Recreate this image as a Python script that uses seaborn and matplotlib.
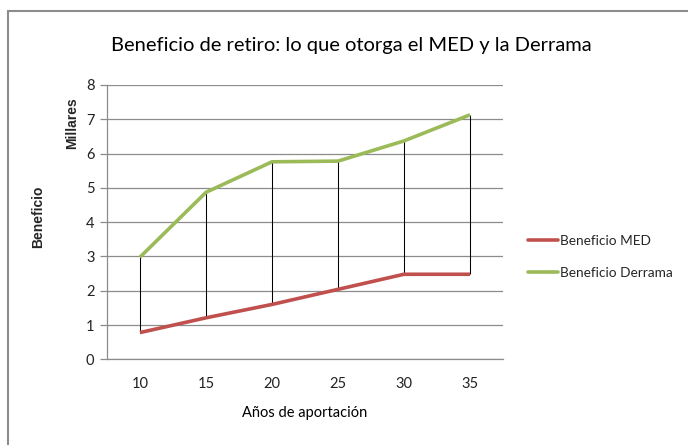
import matplotlib
matplotlib.use("Agg")
import matplotlib.pyplot as plt
import seaborn as sns
import pandas as pd
from matplotlib.lines import Line2D

anios = ["10", "15", "20", "25", "30", "35"]
beneficio_med = [0.78, 1.21, 1.60, 2.04, 2.48, 2.48]
beneficio_derrama = [2.98, 4.87, 5.76, 5.78, 6.37, 7.13]
y_ticks = [0, 1, 2, 3, 4, 5, 6, 7, 8]

sns.set_style("white")
plt.rcParams['font.family'] = ['Lato', 'DejaVu Sans']

pos = list(range(len(anios)))
df = pd.DataFrame({
    "pos": pos * 2,
    "valor": beneficio_med + beneficio_derrama,
    "serie": ["Beneficio MED"] * len(anios) + ["Beneficio Derrama"] * len(anios),
})

fig = plt.figure(figsize=(6.88, 4.45), dpi=100)
ax = fig.add_axes([107/688, 1 - 359.3/445, (503-107)/688, (359.3-85)/445])

colors = {"Beneficio MED": "#C0504D", "Beneficio Derrama": "#9BBB59"}

# high-low lines
ax.vlines(pos, beneficio_med, beneficio_derrama, colors="black", linewidth=0.75, zorder=2)

sns.lineplot(data=df, x="pos", y="valor", hue="serie", palette=colors, linewidth=2.6,
             ax=ax, legend=False, zorder=3, solid_capstyle="butt")

ax.set_xlim(-0.5, len(anios) - 0.5)
ax.set_ylim(0, 8)
ax.set_yticks(y_ticks)
ax.set_xticks(pos)
ax.set_xticklabels(anios)
ax.yaxis.grid(True, color="#8C8C8C", linewidth=0.9)
ax.xaxis.grid(False)
for s in ["top", "right"]:
    ax.spines[s].set_visible(False)
for s in ["left", "bottom"]:
    ax.spines[s].set_color("#8C8C8C")
    ax.spines[s].set_linewidth(0.9)
ax.tick_params(axis="y", length=5, color="#8C8C8C", width=0.9, left=True, labelsize=10.5, pad=4, labelcolor="#222222")
ax.tick_params(axis="x", length=0, labelsize=10.5, pad=13, labelcolor="#222222")
ax.set_xlabel("")
ax.set_ylabel("")

fig.text(351/688, 1 - 45/445, "Beneficio de retiro: lo que otorga el MED y la Derrama",
         ha="center", va="center", fontsize=14.5, color="black")
fig.text(305/688, 1 - 413/445, "Años de aportación", ha="center", va="center", fontsize=10.5, color="black")
fig.text(72/688, 1 - 123/445, "Millares", ha="center", va="center", rotation=90,
         fontsize=10, fontweight="bold", family=["Liberation Sans", "DejaVu Sans"])
fig.text(38/688, 1 - 217/445, "Beneficio", ha="center", va="center", rotation=90,
         fontsize=10, fontweight="bold", family=["Liberation Sans", "DejaVu Sans"])

handles = [Line2D([0], [0], color=colors["Beneficio MED"], linewidth=2.6),
           Line2D([0], [0], color=colors["Beneficio Derrama"], linewidth=2.6)]
fig.legend(handles, ["Beneficio MED", "Beneficio Derrama"], loc="center left",
           bbox_to_anchor=(523/688, 1 - 257/445), frameon=False, fontsize=9.8,
           handlelength=2.2, handletextpad=0.15, labelspacing=1.45, borderaxespad=0)

# outer border (left and top)
fig.add_artist(Line2D([8/688, 8/688], [0, 1 - 11/445], color="#8C8C8C", linewidth=1.5, transform=fig.transFigure))
fig.add_artist(Line2D([8/688, 1], [1 - 11/445, 1 - 11/445], color="#8C8C8C", linewidth=1.5, transform=fig.transFigure))

fig.savefig("out.png", dpi=100)
